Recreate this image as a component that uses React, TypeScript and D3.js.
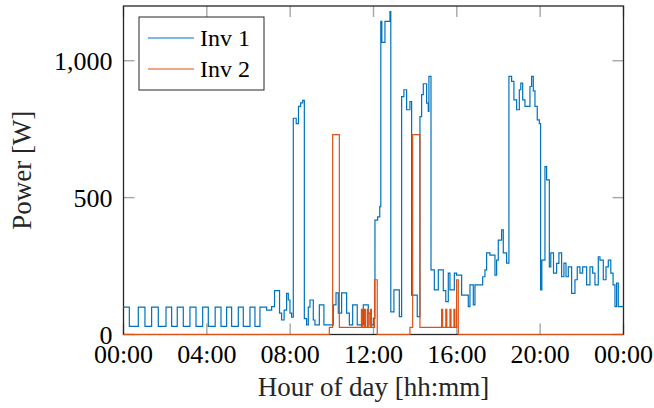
import * as d3 from 'd3';
import React from 'react';

// Inverter power over one day, [hour, watts], held until the next sample
const inv1: [number, number][] = [
  [0, 100], [0.28, 30], [0.71, 100], [1.03, 30], [1.35, 100], [1.67, 30],
  [2.04, 100], [2.31, 30], [2.58, 100], [2.87, 30], [3.19, 100], [3.48, 30],
  [3.8, 100], [4.07, 30], [4.4, 100], [4.68, 30], [4.95, 100], [5.19, 30],
  [5.51, 100], [5.75, 30], [6.07, 100], [6.31, 30], [6.55, 100], [6.87, 89],
  [7.11, 102], [7.25, 160], [7.49, 78], [7.59, 53], [7.71, 89], [7.83, 150],
  [7.91, 126], [7.99, 78], [8.07, 63], [8.15, 790], [8.29, 770], [8.4, 833],
  [8.5, 846], [8.6, 855], [8.68, 58], [8.79, 35], [8.87, 100], [8.95, 126],
  [9.11, 53], [9.19, 35], [9.4, 108], [9.62, 35], [10.07, 108], [10.2, 152],
  [10.31, 78], [10.47, 152], [10.71, 78], [10.84, 35], [11.0, 108], [11.22, 35],
  [11.51, 108], [11.75, 78], [11.83, 35], [11.99, 60], [12.07, 418], [12.2, 430],
  [12.3, 467], [12.35, 1144], [12.4, 1067], [12.55, 1144], [12.79, 1180], [12.83, 83],
  [12.98, 163], [13.24, 65], [13.35, 869], [13.46, 894], [13.59, 821], [13.75, 851],
  [13.83, 144], [14.1, 65], [14.23, 796], [14.31, 876], [14.39, 916], [14.55, 845],
  [14.63, 815], [14.66, 943], [14.76, 236], [14.92, 163], [15.11, 236], [15.35, 160],
  [15.47, 120], [15.59, 224], [15.67, 163], [15.88, 224], [15.99, 217], [16.23, 144],
  [16.55, 102], [16.63, 181], [16.79, 108], [16.87, 181], [17.24, 211], [17.35, 236],
  [17.43, 298], [17.59, 290], [17.83, 217], [17.91, 272], [17.99, 345], [18.15, 382],
  [18.23, 298], [18.39, 261], [18.5, 943], [18.63, 925], [18.74, 857], [18.87, 821],
  [19.0, 894], [19.07, 918], [19.16, 857], [19.27, 833], [19.51, 906], [19.59, 943],
  [19.67, 890], [19.75, 833], [19.86, 784], [19.96, 770], [20.02, 163], [20.08, 272],
  [20.23, 613], [20.31, 565], [20.44, 247], [20.51, 298], [20.64, 224], [20.79, 260],
  [20.9, 298], [21.03, 211], [21.14, 261], [21.24, 211], [21.35, 247], [21.51, 150],
  [21.67, 200], [21.78, 247], [21.91, 224], [22.04, 247], [22.23, 181], [22.39, 247],
  [22.52, 224], [22.63, 181], [22.79, 284], [22.87, 272], [23.03, 200], [23.16, 247],
  [23.27, 272], [23.39, 224], [23.5, 181], [23.59, 102], [23.67, 188], [23.75, 102],
  [24, 102],
];

const inv2: [number, number][] = [
  [0, 0], [9.88, 26], [10.04, 730], [10.36, 26],
  [11.42, 92], [11.47, 26], [11.56, 92], [11.61, 26], [11.7, 92], [11.75, 26],
  [11.85, 92], [11.9, 26], [12.05, 200], [12.18, 0],
  [13.75, 26], [13.88, 730], [14.23, 26],
  [15.27, 92], [15.32, 26], [15.47, 92], [15.52, 26], [15.67, 92], [15.72, 26],
  [15.86, 92], [15.91, 26], [15.99, 200], [16.07, 0], [24, 0],
];

const series = [
  { name: 'Inv 1', color: '#0072bd', values: inv1 },
  { name: 'Inv 2', color: '#d95319', values: inv2 },
];

const xTicks = [0, 4, 8, 12, 16, 20, 24];
const yTicks = [0, 500, 1000];

const W = 654;
const H = 408;
const m = { left: 123.5, right: 30.5, top: 6, bottom: 73.5 };
const font = '"Liberation Serif", "Times New Roman", serif';

const fmtHour = (h: number) => `${String(h % 24).padStart(2, '0')}:00`;

export default function App() {
  const x = d3.scaleLinear().domain([0, 24]).range([m.left, W - m.right]);
  const y = d3.scaleLinear().domain([0, 1200]).range([H - m.bottom, m.top]);
  const line = d3
    .line<[number, number]>()
    .x(d => x(d[0]))
    .y(d => y(d[1]))
    .curve(d3.curveStepAfter);

  const [x0, x1] = x.range();
  const [y0, y1] = y.range();
  const tickLen = 11;

  return (
    <svg width={W} height={H} style={{ position: 'absolute', left: 0, top: 0 }} fontFamily={font}>
      <rect width={W} height={H} fill="#fff" />

      {/* inner ticks on all four sides */}
      {xTicks.map(t => (
        <g key={'xt' + t} stroke="#a6a6a6" strokeWidth={1.4}>
          <line x1={x(t)} x2={x(t)} y1={y0} y2={y0 - tickLen} />
          <line x1={x(t)} x2={x(t)} y1={y1} y2={y1 + tickLen} />
        </g>
      ))}
      {yTicks.map(t => (
        <g key={'yt' + t} stroke="#a6a6a6" strokeWidth={1.4}>
          <line x1={x0} x2={x0 + tickLen} y1={y(t)} y2={y(t)} />
          <line x1={x1} x2={x1 - tickLen} y1={y(t)} y2={y(t)} />
        </g>
      ))}

      <rect x={x0} y={y1} width={x1 - x0} height={y0 - y1} fill="none" stroke="#262626" strokeWidth={1.3} />

      {series.map(s => (
        <path key={s.name} d={line(s.values) ?? ''} fill="none" stroke={s.color} strokeWidth={1.2} />
      ))}

      {xTicks.map(t => (
        <text key={'xl' + t} x={x(t)} y={y0 + 28} textAnchor="middle" fontSize={26} fill="#000">
          {fmtHour(t)}
        </text>
      ))}
      {yTicks.map(t => (
        <text key={'yl' + t} x={x0 - 11} y={y(t) + 9} textAnchor="end" fontSize={26} fill="#000">
          {d3.format(',')(t)}
        </text>
      ))}

      <text x={(x0 + x1) / 2} y={396} textAnchor="middle" fontSize={27} fill="#262626">
        Hour of day [hh:mm]
      </text>
      <text
        transform={`translate(31, ${(y0 + y1) / 2}) rotate(-90)`}
        textAnchor="middle"
        fontSize={27}
        fill="#262626"
      >
        Power [W]
      </text>

      {/* legend */}
      <g>
        <rect x={139} y={17} width={125} height={73} fill="#fff" stroke="#262626" strokeWidth={1} />
        {series.map((s, i) => (
          <g key={'lg' + s.name}>
            <line x1={148} x2={194} y1={38 + i * 31} y2={38 + i * 31} stroke={s.color} strokeWidth={1.2} />
            <text x={200} y={46 + i * 31} fontSize={24} fill="#000">
              {s.name}
            </text>
          </g>
        ))}
      </g>
    </svg>
  );
}
